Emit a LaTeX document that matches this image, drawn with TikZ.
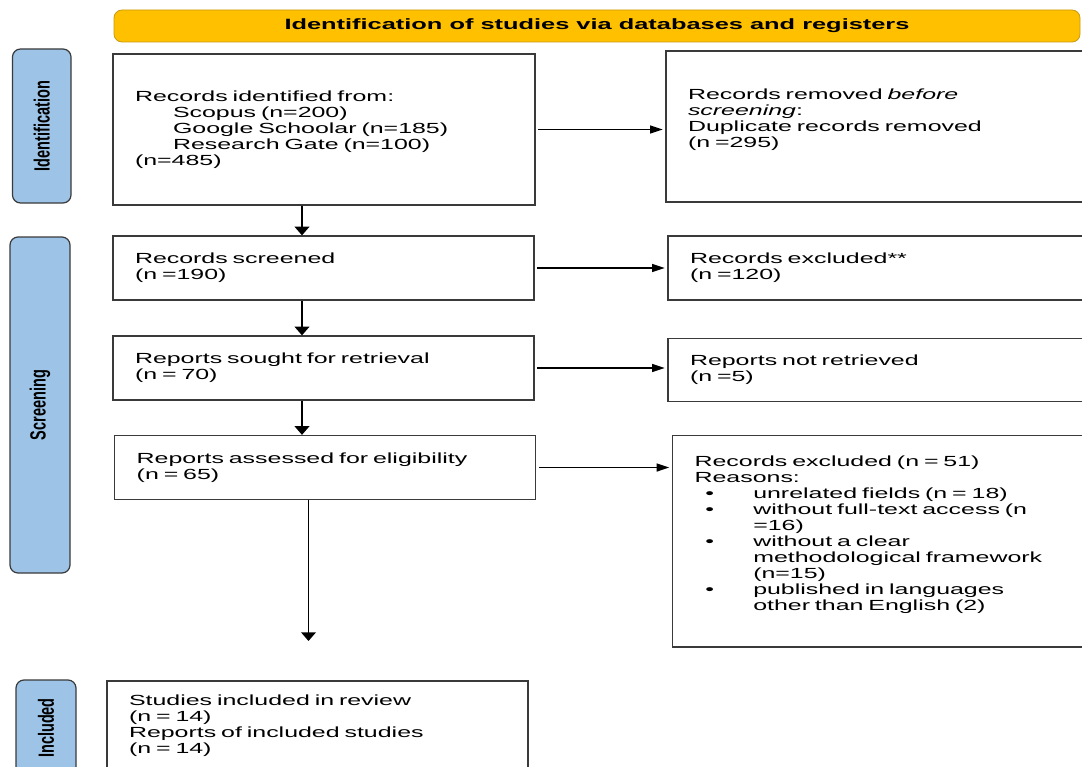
\documentclass[tikz,border=0pt]{standalone}
\usepackage{fontspec}
\setmainfont{Liberation Sans}[FakeStretch=1.7]
\newfontfamily\sidefont{Liberation Sans}[FakeStretch=0.66]
\usetikzlibrary{arrows.meta}
\definecolor{hdrgold}{HTML}{FFC000}
\definecolor{hdredge}{HTML}{C99A12}
\definecolor{sideblue}{HTML}{9DC3E6}
\definecolor{edgegray}{HTML}{3A3A3A}
\newcommand{\reasonitem}{\makebox[44pt][l]{\hspace*{8pt}\textbullet}}
\newcommand{\reasoncont}{\hspace*{44pt}}
\begin{document}
\begin{tikzpicture}[x=0.75pt,y=-0.75pt,font=\fontsize{11}{12}\selectfont,
    box/.style={draw=edgegray,line width=0.95pt,rectangle,align=left,inner xsep=16.5pt,inner ysep=0pt},
    sidebox/.style={draw=edgegray,line width=0.9pt,fill=sideblue,rounded corners=6pt,rotate=90,
      font=\sidefont\bfseries\fontsize{16.5}{18}\selectfont},
    header/.style={draw=hdredge,line width=0.6pt,fill=hdrgold,rounded corners=6pt,font=\bfseries\fontsize{11.2}{12}\selectfont},
    harrow/.style={-{Triangle[length=9.5pt,width=6pt]},line width=1.1pt,shorten <=2pt,shorten >=2pt},
    varrow/.style={-{Triangle[length=6.5pt,width=11pt]},line width=1.1pt}]
  \useasboundingbox (0,0) rectangle (1082,767);
  \clip (0,0) rectangle (1082,767);
  \node[header,minimum width=724.5pt,minimum height=24pt] (hdr) at (597,26) {Identification of studies via databases and registers};
  \node[sidebox,minimum width=115.5pt,minimum height=43.9pt] (sideid) at (41.75,126) {Identification};
  \node[sidebox,minimum width=252pt,minimum height=45pt] (sidescr) at (40,405) {Screening};
  \node[sidebox,minimum width=72pt,minimum height=45pt] (sideinc) at (46,728) {Included};
  \node[box,text width=283.5pt,minimum height=113.25pt] (ident) at (324,129.5) {Records identified from:\\
    \hspace*{28.5pt}Scopus (n=200)\\
    \hspace*{28.5pt}Google Schoolar (n=185)\\
    \hspace*{28.5pt}Research Gate (n=100)\\
    (n=485)};
  \node[box,text width=285pt,minimum height=113.25pt] (removed) at (878,126.5) {Records removed \textit{before}\\
    \textit{screening}:\\
    Duplicate records removed\\
    (n =295)\\ \mbox{}};
  \node[box,text width=282.75pt,minimum height=48pt] (screened) at (323.5,268) {Records screened\\(n =190)};
  \node[box,text width=283.5pt,minimum height=48pt] (exclA) at (879,268) {Records excluded**\\(n =120)};
  \node[box,text width=282.75pt,minimum height=48pt] (sought) at (323.5,368) {Reports sought for retrieval\\(n = 70)};
  \node[box,text width=283.5pt,minimum height=47.75pt] (notret) at (879,370) {Reports not retrieved\\(n =5)};
  \node[box,text width=282.75pt,minimum height=48pt] (assessed) at (325.2,467.5) {Reports assessed for eligibility\\(n = 65)};
  \node[box,text width=280pt,minimum height=158.8pt] (exclB) at (881.25,541) {Records excluded (n = 51)\\
    Reasons:\\
    \reasonitem unrelated fields (n = 18)\\
    \reasonitem without full-text access (n\\
    \reasoncont =16)\\
    \reasonitem without a clear\\
    \reasoncont methodological framework\\
    \reasoncont (n=15)\\
    \reasonitem published in languages\\
    \reasoncont other than English (2)\\ \mbox{}};
  \node[box,text width=282.75pt,minimum height=67.5pt] (included) at (317.5,726) {Studies included in review\\
    (n = 14)\\
    Reports of included studies\\
    (n = 14)};
  \coordinate (col) at (302,0);
  \coordinate (tip) at (308.5,641);
  \draw[varrow] (ident.south -| col) -- (screened.north -| col);
  \draw[varrow] (screened.south -| col) -- (sought.north -| col);
  \draw[varrow] (sought.south -| col) -- (assessed.north -| col);
  \draw[varrow] (assessed.south -| tip) -- (tip);
  \draw[harrow] (ident.east) -- (removed.west |- ident.east);
  \draw[harrow] (screened.east) -- (exclA.west |- screened.east);
  \draw[harrow] (sought.east) -- (notret.west |- sought.east);
  \draw[harrow] (assessed.east) -- (exclB.west |- assessed.east);
\end{tikzpicture}
\end{document}
